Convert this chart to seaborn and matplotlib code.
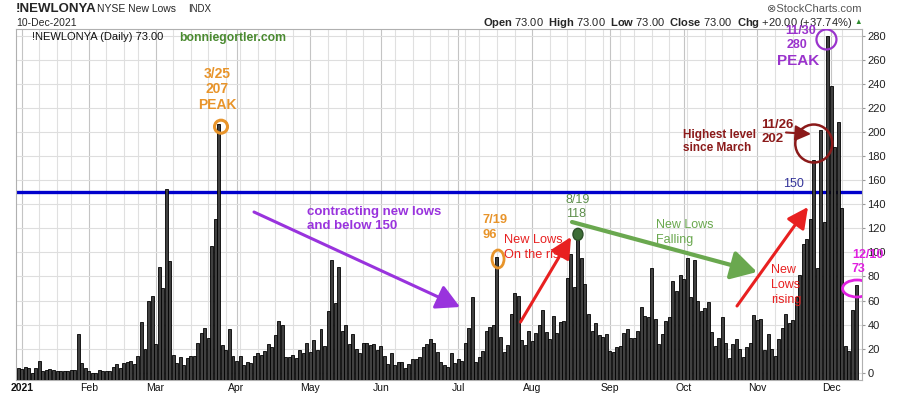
import matplotlib
matplotlib.use("Agg")
import matplotlib.pyplot as plt
from matplotlib.patches import Ellipse
import seaborn as sns
import pandas as pd

W, H = 900, 396

# NYSE trading days shown on the chart (31-Dec-2020 .. 10-Dec-2021)
holidays = ["2021-01-01", "2021-01-18", "2021-02-15", "2021-04-02",
            "2021-05-31", "2021-07-05", "2021-09-06", "2021-11-25"]
trade_days = pd.bdate_range("2020-12-31", "2021-12-10").drop(pd.to_datetime(holidays))

# daily new lows
dec20 = [4]
jan = [3, 5, 4, 0, 4, 10, 1, 2, 3, 2, 1, 1, 1, 1, 2, 2, 32, 8, 4]
feb = [1, 0, 0, 2, 1, 1, 1, 5, 7, 4, 8, 9, 10, 7, 14, 42, 20, 60, 64]
mar = [24, 88, 70, 153, 93, 15, 8, 13, 6, 12, 14, 14, 25, 33, 37, 29, 105, 128, 207, 23, 19, 36, 14]
apr = [10, 14, 6, 9, 8, 14, 16, 15, 18, 24, 21, 31, 43, 40, 13, 13, 15, 12, 19, 16, 25]
may = [17, 27, 19, 36, 22, 51, 94, 58, 88, 35, 40, 24, 32, 20, 16, 25, 25, 23, 24, 19]
jun = [22, 14, 7, 16, 6, 9, 9, 4, 7, 11, 11, 13, 21, 24, 28, 25, 17, 9, 6, 5, 16, 8]
jul = [11, 10, 25, 37, 63, 9, 13, 18, 35, 38, 40, 96, 30, 17, 23, 49, 66, 64, 27, 23, 35]
aug = [26, 33, 40, 52, 34, 28, 47, 33, 42, 43, 79, 99, 71, 118, 95, 74, 49, 35, 41, 31, 30, 32]
sep = [18, 17, 21, 22, 33, 36, 29, 29, 35, 55, 47, 46, 87, 45, 24, 32, 43, 46, 76, 68, 81]
oct_ = [78, 95, 63, 94, 60, 51, 54, 59, 34, 22, 29, 46, 25, 12, 24, 28, 20, 13, 21, 25, 48]
nov = [44, 45, 19, 32, 20, 14, 28, 37, 49, 41, 44, 63, 81, 107, 111, 128, 177, 87, 202, 125, 280]
dec = [238, 188, 208, 137, 22, 18, 52, 73]

new_lows = dec20 + jan + feb + mar + apr + may + jun + jul + aug + sep + oct_ + nov + dec

month_names = ["2021", "Feb", "Mar", "Apr", "May", "Jun", "Jul", "Aug", "Sep", "Oct", "Nov", "Dec"]

df = pd.DataFrame({"date": trade_days, "lows": new_lows})
df["pos"] = range(len(df))

YMIN, YMAX = -6.07, 285.7
XMIN, XMAX = -0.65, 239.7

sns.set_style("white")
plt.rcParams["font.family"] = ["Liberation Sans", "DejaVu Sans"]
plt.rcParams["mathtext.fontset"] = "custom"
plt.rcParams["mathtext.rm"] = "Liberation Sans"
plt.rcParams["mathtext.bf"] = "Liberation Sans:bold"

fig = plt.figure(figsize=(W / 100, H / 100), dpi=100)
ax = fig.add_axes([16 / W, 1 - 380 / H, (862 - 16) / W, (380 - 29) / H])

sns.barplot(data=df, x="pos", y="lows", color="#404040", saturation=1,
            edgecolor="black", linewidth=0.6, width=0.85, errorbar=None, ax=ax, zorder=3)
# stockcharts draws the bars up from the bottom edge of the panel
for p in ax.patches:
    top = p.get_height()
    p.set_y(YMIN)
    p.set_height(top - YMIN)

ax.set_xlim(XMIN, XMAX)
ax.set_ylim(YMIN, YMAX)
ax.set_xlabel("")
ax.set_ylabel("")

# grid: weekly light, monthly a bit darker
d = df["date"]
week_start = df.loc[d.dt.isocalendar().week.ne(d.dt.isocalendar().week.shift()), "pos"]
month_start = df.loc[(d.dt.month.ne(d.dt.month.shift())) & (d.dt.year == 2021), "pos"]
ax.set_xticks(month_start.values)
ax.set_xticklabels(month_names)
ax.set_xticks(week_start.values, minor=True)
ax.get_xticklabels()[0].set_fontweight("bold")
ax.tick_params(axis="x", which="both", length=0, pad=2, labelsize=7.5, colors="#111111")
ax.grid(axis="x", which="major", color="#c4c4c4", lw=0.8)
ax.grid(axis="x", which="minor", color="#e0e0e0", lw=0.8)

ax.yaxis.tick_right()
ax.set_yticks(range(0, 281, 20))
ax.tick_params(axis="y", length=2, pad=2, labelsize=8, colors="#222222", color="#999999")
ax.grid(axis="y", color="#dedede", lw=0.8)
ax.set_axisbelow(True)
for s in ax.spines.values():
    s.set_color("#b0b0b0")
    s.set_linewidth(0.8)

ax.axhline(150, color="#0000cc", lw=2.4, zorder=2.5)


def ftext(x, y, s, **kw):
    kw.setdefault("va", "center")
    fig.text(x / W, 1 - y / H, s, **kw)


def farrow(x0, y0, x1, y1, color, lw, scale, hl=0.5, hw=0.3):
    ax.annotate("", xy=(x1 / W, 1 - y1 / H), xytext=(x0 / W, 1 - y0 / H),
                xycoords="figure fraction", textcoords="figure fraction",
                arrowprops=dict(arrowstyle=f"-|>,head_length={hl},head_width={hw}",
                                color=color, lw=lw, mutation_scale=scale,
                                shrinkA=0, shrinkB=0), zorder=6)


px_x = 846 / (XMAX - XMIN)
px_y = 351 / (YMAX - YMIN)


def ring(date, dx, val, wpx, hpx, color, lw=2, fill=None):
    i = df.index[df["date"] == pd.Timestamp(date)][0]
    e = Ellipse((i + dx, val), wpx / px_x, hpx / px_y, fill=fill is not None,
                facecolor=fill if fill else "none", edgecolor=color, lw=lw, zorder=5)
    ax.add_patch(e)


# header
ftext(16, 8.5, "!NEWLONYA", fontsize=9.5, fontweight="bold", ha="left")
ftext(97, 9, "NYSE New Lows", fontsize=7.5, ha="left")
ftext(188, 9, "INDX", fontsize=7, ha="left")
ftext(16, 23, "10-Dec-2021", fontsize=7.5, ha="left")
ftext(862, 9.5, "\u2297StockCharts.com", fontsize=8, ha="right", color="#555555")
ftext(852, 22.5, r"$\mathbf{Open}$ 73.00  $\mathbf{High}$ 73.00  $\mathbf{Low}$ 73.00  "
      r"$\mathbf{Close}$ 73.00  $\mathbf{Chg}$ +20.00 (+37.74%)", fontsize=8, ha="right")
ftext(858, 22, "\u25b2", fontsize=5.5, ha="center", color="#2e8b2e")
ftext(32, 36.5, "!NEWLONYA (Daily) 73.00", fontsize=8, ha="left", color="#111111")
ftext(233, 38, "bonniegortler.com", fontsize=8.7, fontweight="bold", ha="center", color="#4a8a30")

# 3/25 peak
orange = "#e8942a"
for y, s in [(74, "3/25"), (89, "207"), (105, "PEAK")]:
    ftext(217, y, s, fontsize=10, fontweight="bold", ha="center", color=orange)
ring("2021-03-25", 0.6, 204.5, 13, 13, orange, lw=2.2)

# contracting
purple = "#9933dd"
ftext(307, 211.7, "contracting new lows", fontsize=9.5, fontweight="bold", ha="left", color=purple)
ftext(307, 226, "and below 150", fontsize=9.5, fontweight="bold", ha="left", color=purple)
farrow(254, 212, 460, 307, purple, 2.2, 22, hl=0.65, hw=0.35)

# 7/19
ftext(483, 220, "7/19", fontsize=9.3, fontweight="bold", ha="left", color=orange)
ftext(483, 235, "96", fontsize=9.3, fontweight="bold", ha="left", color=orange)
ring("2021-07-19", 0.3, 94.5, 12, 18, orange, lw=2)

red = "#e82020"
ftext(504, 240, "New Lows", fontsize=9.2, ha="left", color=red)
ftext(504, 255, "On the rise", fontsize=9.2, ha="left", color=red)
farrow(520.5, 322, 571, 237, red, 2.2, 18, hl=0.7, hw=0.35)

# 8/19
ftext(566, 200, "8/19", fontsize=9, ha="left", color="#5e8f4c")
ftext(566, 214, "118", fontsize=9, ha="left", color="#5e8f4c")
ring("2021-08-19", 0, 115, 10, 12, "#2c4f28", lw=1, fill="#3e6e37")
green = "#6aa84f"
farrow(572, 222, 757, 272, green, 3, 22, hl=0.7, hw=0.4)
ftext(656, 225, "New Lows", fontsize=9, ha="left", color=green)
ftext(656, 240, "Falling", fontsize=9, ha="left", color=green)

# rising into Nov
for y, s in [(270, "New"), (285, "Lows"), (300, "rising")]:
    ftext(771, y, s, fontsize=9, ha="left", color=red)
farrow(737, 306, 808, 207, red, 2.2, 18, hl=0.7, hw=0.35)

ftext(793, 184, "150", fontsize=9, ha="center", color="#333399")

# 11/26
dred = "#8b1a1a"
ftext(683, 135, "Highest level", fontsize=8.5, fontweight="bold", ha="left", color=dred)
ftext(683, 148.3, "since March", fontsize=8.5, fontweight="bold", ha="left", color=dred)
ftext(761, 124.7, "11/26", fontsize=9.5, fontweight="bold", ha="left", color=dred)
ftext(761, 138.7, "202", fontsize=9.5, fontweight="bold", ha="left", color=dred)
farrow(786, 132.5, 811, 134, dred, 1.5, 12, hl=0.8, hw=0.4)
ring("2021-11-26", -2, 190.5, 37, 38, dred, lw=1.8)

# 11/30 peak
vio = "#9a33cc"
ftext(801, 31, "11/30", fontsize=9, fontweight="bold", ha="center", color=vio)
ftext(797, 45, "280", fontsize=9, fontweight="bold", ha="center", color=vio)
ftext(798, 61, "PEAK", fontsize=11, fontweight="bold", ha="center", color=vio)
ring("2021-11-30", -0.4, 277, 20, 20, vio, lw=1.6)

# 12/10
mag = "#e020e0"
ftext(852, 255, "12/10", fontsize=9, fontweight="bold", ha="left", color=mag)
ftext(852, 268.5, "73", fontsize=9, fontweight="bold", ha="left", color=mag)
ring("2021-12-10", 0.3, 70, 29, 17, mag, lw=2)

fig.savefig("out.png", dpi=100)
